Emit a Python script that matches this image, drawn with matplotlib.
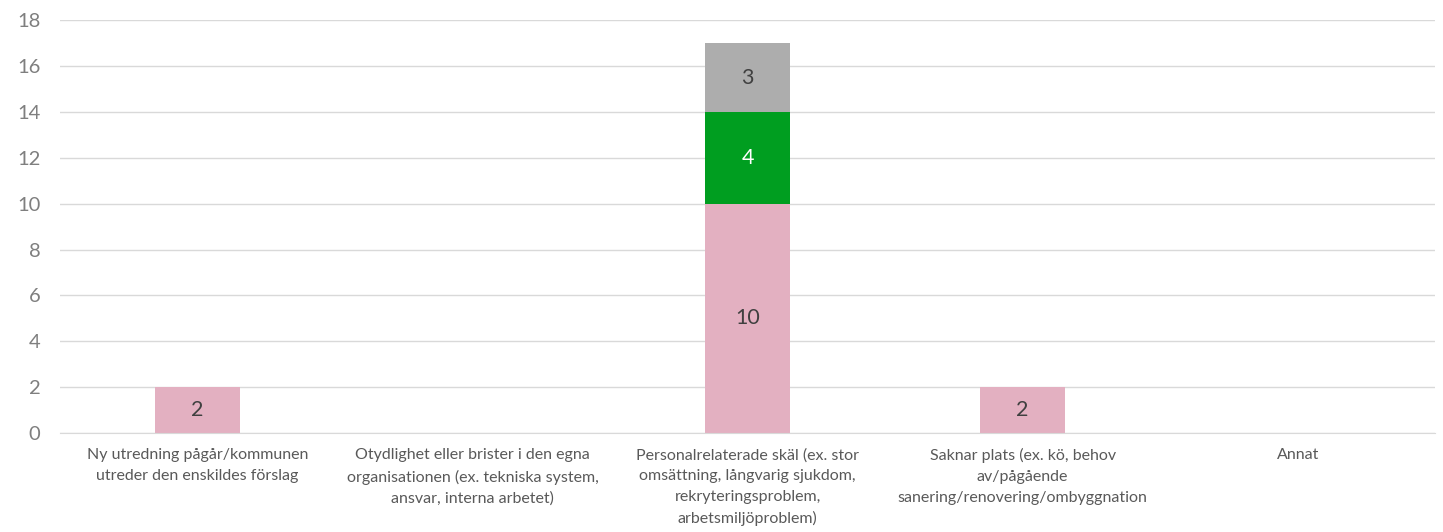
import numpy as np
import matplotlib
matplotlib.use('Agg')
import matplotlib.pyplot as plt

plt.rcParams['font.family'] = ['Lato', 'DejaVu Sans']

# Data
categories = [
    "Ny utredning pågår/kommunen\nutreder den enskildes förslag",
    "Otydlighet eller brister i den egna\norganisationen (ex. tekniska system,\nansvar, interna arbetet)",
    "Personalrelaterade skäl (ex. stor\nomsättning, långvarig sjukdom,\nrekryteringsproblem,\narbetsmiljöproblem)",
    "Saknar plats (ex. kö, behov\nav/pågående\nsanering/renovering/ombyggnation",
    "Annat",
]
series_pink = [2, 0, 10, 2, 0]
series_green = [0, 0, 4, 0, 0]
series_gray = [0, 0, 3, 0, 0]

colors = ['#E3B0C1', '#009E20', '#ADADAD']
label_colors = ['#404040', '#FFFFFF', '#404040']

fig = plt.figure(figsize=(14.43, 5.32), dpi=100)
ax = fig.add_axes([0.0416, 0.186, 0.953, 0.776])

x = np.arange(len(categories))
width = 0.31
bottom = np.zeros(len(categories))
for vals, col, lcol in zip([series_pink, series_green, series_gray], colors, label_colors):
    vals = np.array(vals, dtype=float)
    ax.bar(x, vals, width, bottom=bottom, color=col, zorder=2)
    for xi, v, b in zip(x, vals, bottom):
        if v > 0:
            ax.text(xi, b + v / 2, f"{int(v)}", ha='center', va='center',
                    fontsize=15.5, color=lcol, zorder=3)
    bottom += vals

ax.set_xlim(-0.5, len(categories) - 0.5)
ax.set_ylim(0, 18)
ax.set_yticks(range(0, 19, 2))
ax.yaxis.grid(True, color='#D9D9D9', linewidth=1, zorder=0)
ax.set_axisbelow(True)
for side in ['top', 'right', 'left']:
    ax.spines[side].set_visible(False)
ax.spines['bottom'].set_color('#D9D9D9')
ax.tick_params(axis='y', length=0, labelsize=14.5, labelcolor='#7F7F7F', pad=14)
ax.tick_params(axis='x', length=0, labelsize=11.5, labelcolor='#595959', pad=11)
ax.set_xticks(x)
ax.set_xticklabels(categories, linespacing=1.6)

fig.savefig('out.png', dpi=100)
